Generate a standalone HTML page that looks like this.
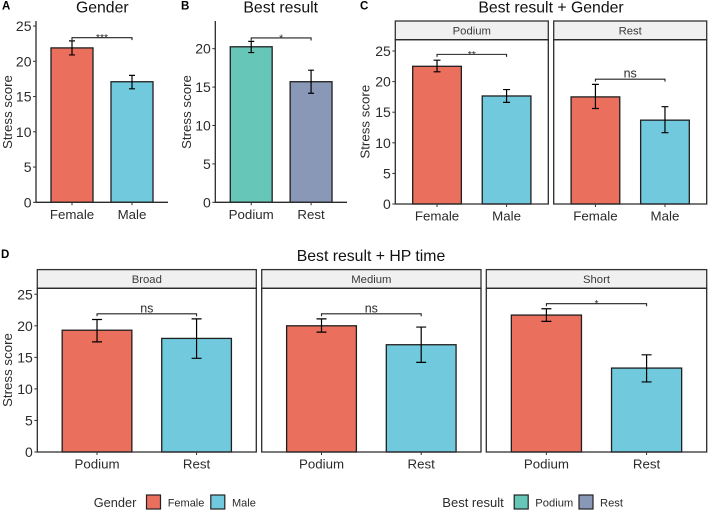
<!DOCTYPE html>
<html lang="en">
<head>
<meta charset="utf-8">
<title>Stress score charts</title>
<style>
html,body{margin:0;padding:0;background:#fff;width:708px;height:510px;overflow:hidden}
svg{display:block;font-family:"Liberation Sans",Arial,sans-serif;filter:blur(0.3px)}
</style>
</head>
<body>
<svg id="fig" xmlns="http://www.w3.org/2000/svg" width="708" height="510" viewBox="0 0 708 510">
  <g font-size="11.5" font-weight="bold" fill="#000">
    <text x="2" y="9.5">A</text>
    <text x="181" y="9.5">B</text>
    <text x="360" y="9.5">C</text>
    <text x="1" y="258">D</text>
  </g>
  <g font-size="15.8" fill="#111" text-anchor="middle">
    <text x="102.3" y="12.5">Gender</text>
    <text x="280.7" y="12.5">Best result</text>
    <text x="551" y="12.5">Best result + Gender</text>
    <text x="371" y="261">Best result + HP time</text>
  </g>
  <g font-size="13.3" fill="#2b2b2b" text-anchor="middle">
    <text transform="translate(12 112) rotate(-90)">Stress score</text>
    <text transform="translate(191 112) rotate(-90)">Stress score</text>
    <text transform="translate(369.7 121.7) rotate(-90)">Stress score</text>
    <text transform="translate(12 370) rotate(-90)">Stress score</text>
  </g>
  <g>
    <text x="93.7" y="507" font-size="12.8" fill="#2b2b2b">Gender</text>
    <rect x="146.5" y="495" width="14" height="14" fill="#EB6F5D" stroke="#222" stroke-width="1.2"/>
    <text x="167.7" y="506.7" font-size="11" fill="#2b2b2b">Female</text>
    <rect x="210.8" y="495" width="14" height="14" fill="#71C9DD" stroke="#222" stroke-width="1.2"/>
    <text x="232" y="506.7" font-size="11" fill="#2b2b2b">Male</text>
  </g>
  <g>
    <text x="442.3" y="507" font-size="13" fill="#2b2b2b">Best result</text>
    <rect x="514.2" y="495" width="14" height="14" fill="#66C6B7" stroke="#222" stroke-width="1.2"/>
    <text x="535.3" y="506.7" font-size="11.2" fill="#2b2b2b">Podium</text>
    <rect x="579" y="495" width="14" height="14" fill="#8A98B8" stroke="#222" stroke-width="1.2"/>
    <text x="600" y="506.7" font-size="11.2" fill="#2b2b2b">Rest</text>
  </g>
</svg>
<script>
// ---- data ----
const yTicksA = [0, 5, 10, 15, 20, 25];
const yTicksB = [0, 5, 10, 15, 20];
const yTicksFacet = [0, 5, 10, 15, 20, 25];

const genderCategories = ['Female', 'Male'];
const genderMeans = [21.9, 17.1];
const genderLow = [20.9, 16.1];
const genderHigh = [22.9, 18.0];
const genderBracket = 23.35;
const genderSig = '***';

const resultCategories = ['Podium', 'Rest'];
const resultMeans = [20.25, 15.7];
const resultLow = [19.5, 14.2];
const resultHigh = [20.95, 17.2];
const resultBracket = 21.4;
const resultSig = '*';

const podiumGenderMeans = [22.5, 17.65];
const podiumGenderLow = [21.6, 16.6];
const podiumGenderHigh = [23.5, 18.7];
const podiumGenderBracket = 24.45;
const podiumGenderSig = '**';

const restGenderMeans = [17.5, 13.7];
const restGenderLow = [15.6, 11.65];
const restGenderHigh = [19.55, 15.9];
const restGenderBracket = 20.4;
const restGenderSig = 'ns';

const broadMeans = [19.3, 18.0];
const broadLow = [17.45, 14.85];
const broadHigh = [21.0, 21.1];
const broadBracket = 21.9;
const broadSig = 'ns';

const mediumMeans = [20.0, 17.0];
const mediumLow = [19.0, 14.2];
const mediumHigh = [21.1, 19.8];
const mediumBracket = 21.9;
const mediumSig = 'ns';

const shortMeans = [21.7, 13.3];
const shortLow = [20.7, 11.1];
const shortHigh = [22.7, 15.4];
const shortBracket = 23.5;
const shortSig = '*';

// ---- palette ----
const RED = '#EB6F5D', BLUE = '#71C9DD', GREEN = '#66C6B7', SLATE = '#8A98B8';
const SVGNS = 'http://www.w3.org/2000/svg';
const fig = document.getElementById('fig');

function mk(parent, tag, attrs, text) {
  const n = document.createElementNS(SVGNS, tag);
  for (const k in attrs) n.setAttribute(k, attrs[k]);
  if (text !== undefined) n.textContent = text;
  parent.appendChild(n);
  return n;
}

// axis functions: ggplot-like discrete x with 0.6 expansion, y from zero
function makeXScale(left, right, count) {
  const step = (right - left) / (count - 1 + 1.2);
  const fn = i => left + step * (0.6 + i);
  fn.step = step;
  return fn;
}
function makeYScale(bottom, pxPerUnit) {
  return v => bottom - v * pxPerUnit;
}

function drawPlot(spec) {
  const group = mk(fig, 'g', {});
  
  
  const x = makeXScale(spec.left, spec.right, spec.categories.length);
  const y = makeYScale(spec.bottom, spec.pxPerUnit);
  const barW = x.step * 0.7;
  const capW = x.step * 0.1;

  // strip
  if (spec.strip) {
    const strip = mk(group, 'rect', {x: spec.left, y: spec.top - spec.stripH, width: spec.right - spec.left, height: spec.stripH, fill: '#F0F0F0', stroke: '#333', 'stroke-width': 1.3});
    
    
    const stripLabel = mk(group, 'text', {x: (spec.left + spec.right) / 2, y: spec.top - spec.stripH / 2 + 4, 'font-size': 11.3, fill: '#3a3a3a', 'text-anchor': 'middle'}, spec.strip);
    
    
  }

  // bars
  spec.means.forEach((m, i) => {
    const bar = mk(group, 'rect', {x: x(i) - barW / 2, y: y(m), width: barW, height: spec.bottom - y(m), fill: spec.colors[i], stroke: '#1f1f1f', 'stroke-width': 1.3});
    
    
  });

  // error bars
  spec.means.forEach((m, i) => {
    const d = 'M' + (x(i) - capW / 2) + ' ' + y(spec.high[i]) + 'H' + (x(i) + capW / 2) +
      'M' + x(i) + ' ' + y(spec.high[i]) + 'V' + y(spec.low[i]) +
      'M' + (x(i) - capW / 2) + ' ' + y(spec.low[i]) + 'H' + (x(i) + capW / 2);
    const err = mk(group, 'path', {d: d, fill: 'none', stroke: '#000', 'stroke-width': 1.2});
    
    
  });

  // significance bracket
  const by = y(spec.bracket);
  const last = spec.categories.length - 1;
  const br = mk(group, 'path', {d: 'M' + x(0) + ' ' + (by + 2.5) + 'V' + by + 'H' + x(last) + 'V' + (by + 2.5), fill: 'none', stroke: '#222', 'stroke-width': 1.1});
  
  
  const isNs = spec.sig === 'ns';
  const sigLabel = mk(group, 'text', {x: (x(0) + x(last)) / 2, y: isNs ? by - 1.5 : by + 3.5, 'font-size': isNs ? 12.5 : 10.5, fill: '#2b2b2b', 'text-anchor': 'middle'}, spec.sig);
  
  

  // frame or axes
  const frameD = spec.strip
    ? 'M' + spec.left + ' ' + spec.top + 'H' + spec.right + 'V' + spec.bottom + 'H' + spec.left + 'Z'
    : 'M' + spec.left + ' ' + spec.top + 'V' + spec.bottom + 'H' + spec.right;
  const frame = mk(group, 'path', {d: frameD, fill: 'none', stroke: '#2b2b2b', 'stroke-width': 1.3});
  
  

  // y ticks
  if (spec.yTicks) {
    spec.yTicks.forEach(t => {
      const tick = mk(group, 'line', {x1: spec.left - 3, x2: spec.left, y1: y(t), y2: y(t), stroke: '#333', 'stroke-width': 1});
      
      
      const label = mk(group, 'text', {x: spec.left - 4.5, y: y(t) + 5, 'font-size': 14, fill: '#2b2b2b', 'text-anchor': 'end'}, String(t));
      
      
    });
  }

  // x ticks
  spec.categories.forEach((c, i) => {
    const tick = mk(group, 'line', {x1: x(i), x2: x(i), y1: spec.bottom, y2: spec.bottom + 3, stroke: '#333', 'stroke-width': 1});
    
    
    const label = mk(group, 'text', {x: x(i), y: spec.bottom + 16.5, 'font-size': 13.3, fill: '#2b2b2b', 'text-anchor': 'middle'}, c);
    
    
  });
}

drawPlot({name: 'gender-plot', left: 36, right: 168, top: 21, bottom: 202.3, pxPerUnit: 7.05,
  categories: genderCategories, means: genderMeans, low: genderLow, high: genderHigh,
  bracket: genderBracket, sig: genderSig, colors: [RED, BLUE], yTicks: yTicksA});

drawPlot({name: 'best-result-plot', left: 215.3, right: 347, top: 21, bottom: 202.3, pxPerUnit: 7.68,
  categories: resultCategories, means: resultMeans, low: resultLow, high: resultHigh,
  bracket: resultBracket, sig: resultSig, colors: [GREEN, SLATE], yTicks: yTicksB});

drawPlot({name: 'podium-gender-facet', strip: 'Podium', stripH: 18.7, left: 395.3, right: 548.3, top: 39.7, bottom: 204, pxPerUnit: 6.12,
  categories: genderCategories, means: podiumGenderMeans, low: podiumGenderLow, high: podiumGenderHigh,
  bracket: podiumGenderBracket, sig: podiumGenderSig, colors: [RED, BLUE], yTicks: yTicksFacet});

drawPlot({name: 'rest-gender-facet', strip: 'Rest', stripH: 18.7, left: 553.7, right: 706.7, top: 39.7, bottom: 204, pxPerUnit: 6.12,
  categories: genderCategories, means: restGenderMeans, low: restGenderLow, high: restGenderHigh,
  bracket: restGenderBracket, sig: restGenderSig, colors: [RED, BLUE]});

drawPlot({name: 'broad-facet', strip: 'Broad', stripH: 18.7, left: 37.3, right: 256.3, top: 288.3, bottom: 452, pxPerUnit: 6.31,
  categories: resultCategories, means: broadMeans, low: broadLow, high: broadHigh,
  bracket: broadBracket, sig: broadSig, colors: [RED, BLUE], yTicks: yTicksFacet});

drawPlot({name: 'medium-facet', strip: 'Medium', stripH: 18.7, left: 261.7, right: 481, top: 288.3, bottom: 452, pxPerUnit: 6.31,
  categories: resultCategories, means: mediumMeans, low: mediumLow, high: mediumHigh,
  bracket: mediumBracket, sig: mediumSig, colors: [RED, BLUE]});

drawPlot({name: 'short-facet', strip: 'Short', stripH: 18.7, left: 486.3, right: 706.7, top: 288.3, bottom: 452, pxPerUnit: 6.31,
  categories: resultCategories, means: shortMeans, low: shortLow, high: shortHigh,
  bracket: shortBracket, sig: shortSig, colors: [RED, BLUE]});
</script>
</body>
</html>
